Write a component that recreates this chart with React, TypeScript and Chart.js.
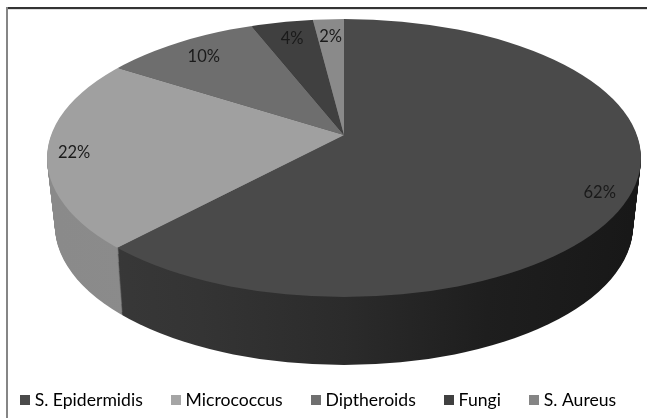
import React, { useEffect, useRef } from "react";
import { Chart, registerables } from "chart.js";

Chart.register(...registerables);

const categories = ["S. Epidermidis", "Micrococcus", "Diptheroids", "Fungi", "S. Aureus"];
const shares = [62, 22, 10, 4, 2];
const topColors = ["#4a4a4a", "#a0a0a0", "#6e6e6e", "#404040", "#8a8a8a"];
const legendColors = ["#4a4a4a", "#a5a5a5", "#6f6f6f", "#404040", "#858585"];
const wallShades = [
  ["#3a3a3a", "#343434", "#2b2b2b", "#1e1e1e", "#181818"],
  ["#8a8a8a", "#8c8c8c", "#8e8e8e", "#8e8e8e", "#8e8e8e"],
  ["#555555", "#555555", "#555555", "#555555", "#555555"],
  ["#303030", "#303030", "#303030", "#303030", "#303030"],
  ["#6a6a6a", "#6a6a6a", "#6a6a6a", "#6a6a6a", "#6a6a6a"],
];
// Distance along each slice's middle angle, and a small vertical nudge, for its label.
const labelReach = [275, 272, 220, 209, 212];
const labelNudge = [10, 2, 1, -1.5, 0];

// Perspective of the tilted disc: slices fan out from the apex, which sits above the rim's centre.
const APEX_X = 344;
const APEX_Y = 135;
const TILT = 0.467;
const RIM_CY = 158;
const RIM_RX = 297;
const RIM_RY = 139;
const DEPTH = 68;
const APEX_DROP = 66;
const BASE_RX = 289;
const WEDGE_RADIUS = 360;
const SWATCH = 10;

function placeLayer(ctx: CanvasRenderingContext2D, el: any, t: number) {
  const rx = RIM_RX + (BASE_RX - RIM_RX) * t;
  const scaleX = rx / RIM_RX;
  ctx.beginPath();
  ctx.ellipse(APEX_X, RIM_CY + DEPTH * t, rx, RIM_RY, 0, 0, Math.PI * 2);
  ctx.clip();
  ctx.translate(APEX_X, APEX_Y + APEX_DROP * t);
  ctx.scale(scaleX, TILT);
  ctx.translate(-el.x, -el.y);
}

function swatch(color: string) {
  const c = document.createElement("canvas");
  c.width = SWATCH;
  c.height = SWATCH;
  const g = c.getContext("2d") as CanvasRenderingContext2D;
  g.fillStyle = color;
  g.fillRect(0, 0, SWATCH, SWATCH);
  return c;
}

const tiltedDisc = {
  id: "tiltedDisc",
  beforeDraw(chart: any) {
    const { ctx, width, height } = chart;
    ctx.save();
    ctx.fillStyle = "#ffffff";
    ctx.fillRect(0, 0, width, height);
    ctx.fillStyle = "#333333";
    ctx.fillRect(6, 7, width - 6, 2);
    ctx.fillStyle = "#868686";
    ctx.fillRect(6, 7, 2, height - 7);
    ctx.fillStyle = "#dddddd";
    ctx.fillRect(8, 9, width - 8, 1);
    ctx.restore();
  },
  beforeDatasetsDraw(chart: any) {
    const { ctx } = chart;
    const arcs = chart.getDatasetMeta(0).data;
    const first = arcs[0];
    // The wall is a stack of shaded copies of the arcs, from the base upward.
    const fills = wallShades.map((stops) => {
      const g = ctx.createLinearGradient(first.x - 291, 0, first.x + 291, 0);
      stops.forEach((c, i) => g.addColorStop(i / (stops.length - 1), c));
      return g;
    });
    const ghosts = arcs.map((el: any, i: number) => {
      const ghost = Object.create(el);
      ghost.options = { ...el.options, backgroundColor: fills[i] };
      return ghost;
    });
    for (let step = DEPTH; step >= 1; step--) {
      ctx.save();
      placeLayer(ctx, first, step / DEPTH);
      ghosts.forEach((g: any) => g.draw(ctx));
      ctx.restore();
    }
    ctx.save();
    placeLayer(ctx, first, 0);
  },
  afterDatasetsDraw(chart: any) {
    const { ctx } = chart;
    ctx.restore();
    const arcs = chart.getDatasetMeta(0).data;
    ctx.save();
    ctx.font = "16.5px Lato";
    ctx.fillStyle = "#1a1a1a";
    ctx.textAlign = "center";
    ctx.textBaseline = "middle";
    arcs.forEach((el: any, i: number) => {
      const mid = (el.startAngle + el.endAngle) / 2;
      const x = APEX_X + labelReach[i] * Math.cos(mid);
      const y = APEX_Y + TILT * labelReach[i] * Math.sin(mid) + labelNudge[i];
      ctx.fillText(`${shares[i]}%`, x, y);
    });
    ctx.restore();
  },
};

export default function App() {
  const canvasRef = useRef<HTMLCanvasElement>(null);

  useEffect(() => {
    document.body.style.margin = "0";
    const chart = new Chart(canvasRef.current as HTMLCanvasElement, {
      type: "pie",
      data: {
        labels: categories,
        datasets: [
          {
            data: shares,
            backgroundColor: topColors,
            borderWidth: 0,
            radius: WEDGE_RADIUS,
          },
        ],
      },
      options: {
        responsive: false,
        animation: false,
        layout: { padding: { left: -10, right: -3, top: 0, bottom: -1 } },
        plugins: {
          tooltip: { enabled: false },
          legend: {
            position: "bottom",
            labels: {
              usePointStyle: true,
              boxWidth: 2,
              boxHeight: 10,
              padding: 32,
              color: "#2a2a2a",
              font: { family: "Lato", size: 17.6 },
              generateLabels: () =>
                categories.map((text, i) => ({
                  text,
                  pointStyle: swatch(legendColors[i]),
                  fillStyle: legendColors[i],
                  strokeStyle: legendColors[i],
                  lineWidth: 0,
                  index: i,
                })),
            },
          },
        },
      },
      plugins: [tiltedDisc],
    } as any);
    return () => chart.destroy();
  }, []);

  return (
    <div style={{ position: "absolute", left: 0, top: 0, width: 647, height: 418 }}>
      <canvas ref={canvasRef} width={647} height={418} style={{ display: "block" }} />
    </div>
  );
}
